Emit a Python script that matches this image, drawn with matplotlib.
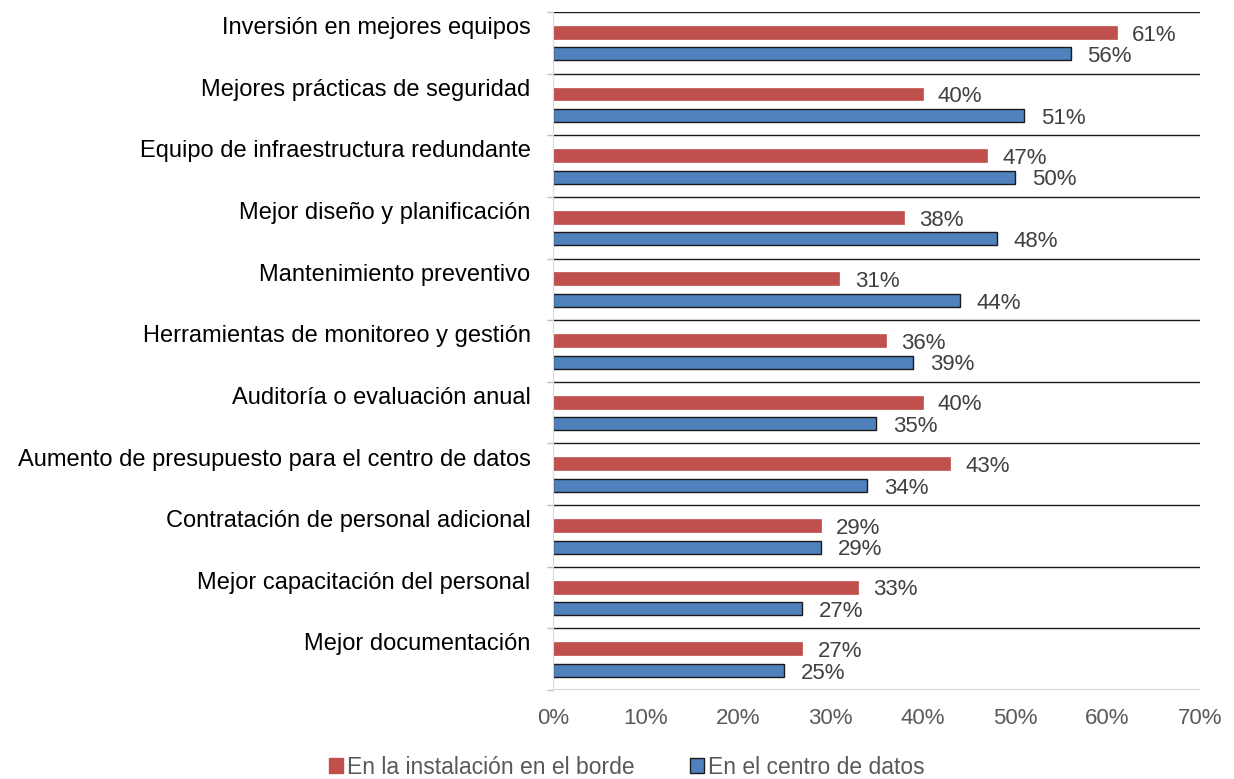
import matplotlib.pyplot as plt
from matplotlib.patches import Patch
import numpy as np

plt.rcParams['font.family'] = ['Liberation Sans', 'DejaVu Sans']

categories = [
    'Inversión en mejores equipos',
    'Mejores prácticas de seguridad',
    'Equipo de infraestructura redundante',
    'Mejor diseño y planificación',
    'Mantenimiento preventivo',
    'Herramientas de monitoreo y gestión',
    'Auditoría o evaluación anual',
    'Aumento de presupuesto para el centro de datos',
    'Contratación de personal adicional',
    'Mejor capacitación del personal',
    'Mejor documentación',
]
borde = [61, 40, 47, 38, 31, 36, 40, 43, 29, 33, 27]
centro = [56, 51, 50, 48, 44, 39, 35, 34, 29, 27, 25]
series_names = ['En la instalación en el borde', 'En el centro de datos']
xticks = [0, 10, 20, 30, 40, 50, 60, 70]

red = '#C0504D'
blue = '#4F81BD'
fs = 16

fig = plt.figure(figsize=(12.34, 7.79), dpi=100)
ax = fig.add_axes([0.448, 0.1142, 0.5244, 0.8704])

y = np.arange(len(categories))
h = 0.21
ax.barh(y - 0.17, borde, height=h, color=red, edgecolor=red, linewidth=0.5)
ax.barh(y + 0.18, centro, height=h, color=blue, edgecolor='#1a1a1a', linewidth=1.0)

for yi, v in zip(y, borde):
    ax.annotate(f'{v}%', (v, yi - 0.17), xytext=(11, -2), textcoords='offset points',
                ha='left', va='center', fontsize=fs, color='#404040')
for yi, v in zip(y, centro):
    ax.annotate(f'{v}%', (v, yi + 0.18), xytext=(12, -2), textcoords='offset points',
                ha='left', va='center', fontsize=fs, color='#404040')

# category separators
for b in np.arange(-0.5, len(categories), 1.0):
    ax.axhline(b, color='#1a1a1a', linewidth=1.0, zorder=0)

ax.set_ylim(len(categories) - 0.5, -0.5)
ax.set_xlim(0, 70)

ax.set_yticks(y - 0.28)
ax.set_yticklabels(categories, fontsize=17, color='black')
ax.set_yticks(np.arange(-0.5, len(categories), 1.0), minor=True)
ax.tick_params(axis='y', which='major', length=0, pad=16)
ax.tick_params(axis='y', which='minor', length=4, color='#BFBFBF', width=1)

ax.set_xticks(xticks)
ax.set_xticklabels([f'{t}%' for t in xticks], fontsize=fs, color='#595959')
ax.tick_params(axis='x', length=0, pad=13)

for s in ['top', 'right', 'bottom']:
    ax.spines[s].set_visible(False)
ax.spines['left'].set_color('#D9D9D9')

handles = [Patch(facecolor=red, edgecolor=red),
           Patch(facecolor=blue, edgecolor='#1a1a1a')]
fig.legend(handles, series_names, loc='lower center', bbox_to_anchor=(0.508, -0.026),
           ncol=2, frameon=False, fontsize=16.5, handlelength=0.6, handleheight=0.6,
           handletextpad=0.2, columnspacing=2.4, labelcolor='#595959')

fig.savefig('out.png', dpi=100)
